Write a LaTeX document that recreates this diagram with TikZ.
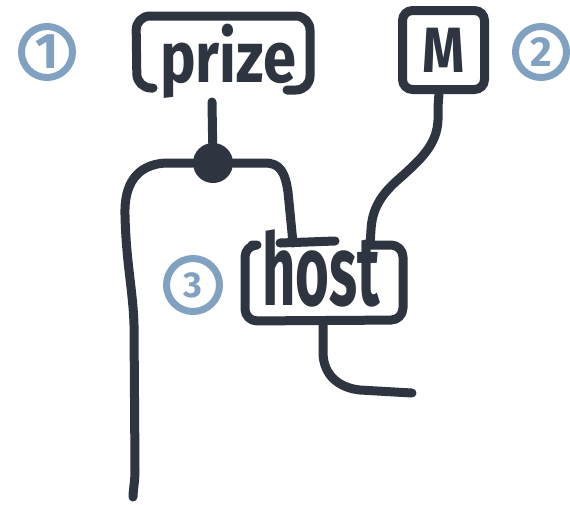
\documentclass[tikz,border=0pt]{standalone}
\usepackage{fontspec}
\setmainfont{Fira Sans}
\usetikzlibrary{calc}
\definecolor{ink}{HTML}{2E3440}
\definecolor{frost}{HTML}{81A1C1}
\begin{document}
\begin{tikzpicture}[x=1pt,y=-1pt,
  link/.style={draw=ink, line width=9pt, line cap=round, line join=round},
  badge/.style={circle, draw=frost, line width=7pt, minimum size=51pt, inner sep=0pt, text=frost},
  hand/.style={text=ink, inner sep=0pt}]
\useasboundingbox[fill=white] (0,0) rectangle (570,504);

% badges
\node[badge, font=\fontsize{50}{50}\selectfont\bfseries] (n1) at (47,52) {1};
\node[badge, font=\fontsize{42}{42}\selectfont\bfseries] (n2) at (541,52) {2};
\node[badge, minimum size=53pt, font=\fontsize{36}{36}\selectfont\bfseries] (n3) at (193,285) {3};

% prize
\node[hand, anchor=base west, font=\fontsize{72}{72}\selectfont\bfseries] (prize) at (160,82) {\scalebox{0.83}[1]{prize}};
\draw[link, rounded corners=14pt] (153,88) -- (137,88) -- (136,16) -- (310,16) -- (310,90) -- (287,90);

% M
\node[draw=ink, line width=9pt, rounded corners=10pt, minimum width=82pt, minimum height=79pt,
      inner sep=0pt, text=ink, font=\fontsize{64}{64}\selectfont\bfseries] (M) at (443.5,50) {\scalebox{0.84}[1]{M}};

% host
\node[minimum width=158pt, minimum height=76pt, inner sep=0pt] (host) at (324,283) {};
\node[hand, anchor=base west, font=\fontsize{100}{100}\selectfont\bfseries] (hostlabel) at (262,305) {\scalebox{0.58}[1]{host}};
\draw[link, rounded corners=12pt] (252,245) -- (245,245) -- (245,321) -- (403,320) -- (403,245) -- (367,245);
\draw[link] (280,243) -- (335,241);

% junction dot
\node[circle, fill=ink, minimum size=40pt, inner sep=0pt] (dot) at (213,163) {};

% connector ends
\coordinate (pz) at (212,102);
\coordinate (hin) at (293,243);
\coordinate (min) at (370,245);
\coordinate (hout) at (323,322);
\coordinate (endL) at (133,497);
\coordinate (endR) at (412,393);

% connectors
\draw[link] (pz) -- (dot);
\draw[link] (dot) -- (165,163) .. controls (136,165) and (124,185) .. (125,215)
   .. controls (126,262) and (133,290) .. (134,325) -- (135,470) .. controls (135,482) and (133,490) .. (endL);
\draw[link] (dot) -- (265,163) .. controls (280,163) and (285,172) .. (288,192) -- (hin);
\draw[link] (M.south -| 439,0) .. controls (438,105) .. (438,120) .. controls (437,145) and (420,160) .. (400,178)
   .. controls (380,195) and (372,210) .. (371,230) -- (min);
\draw[link] (hout) -- (323,352) .. controls (323,376) and (340,388) .. (360,390) -- (endR);
\end{tikzpicture}
\end{document}
